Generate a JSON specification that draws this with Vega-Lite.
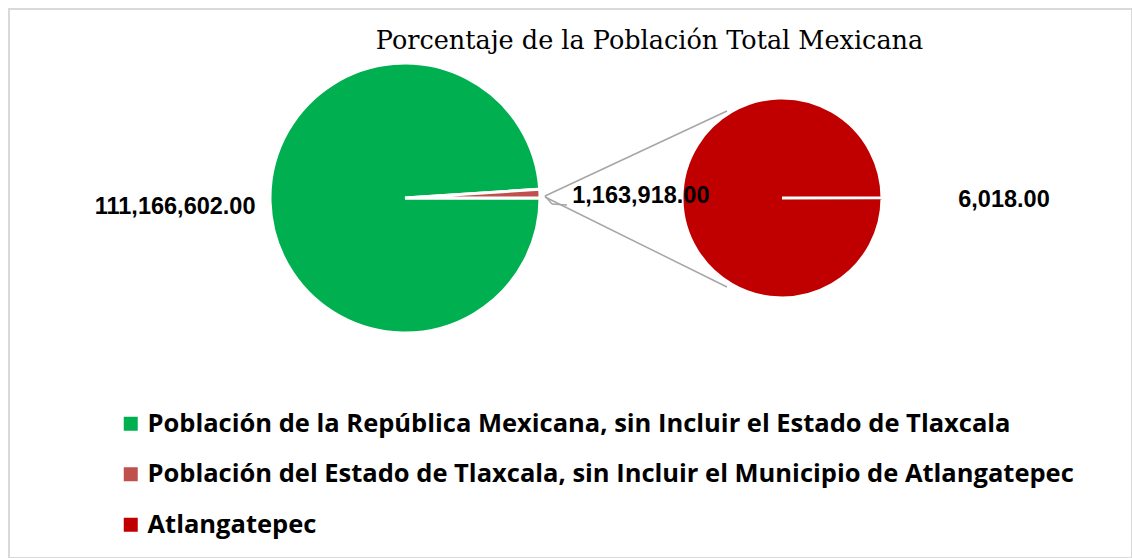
{
  "$schema": "https://vega.github.io/schema/vega-lite/v6.json",
  "autosize": "none",
  "width": 1123,
  "height": 549,
  "padding": {"left": 9, "top": 9, "right": 0, "bottom": 0},
  "background": "white",
  "title": {"text": "Porcentaje de la Población Total Mexicana", "font": "DejaVu Serif", "fontSize": 25.5, "fontWeight": "normal", "color": "#000000", "anchor": "middle", "dx": 79, "offset": -45},
  "config": {"view": {"stroke": "#D9D9D9", "strokeWidth": 2}, "scale": {"pointPadding": 0}},
  "datasets": {
    "principal": [
      {"grafico": "principal", "categoria": "Atlangatepec", "valor": 6018, "orden": 1},
      {"grafico": "principal", "categoria": "Población de la República Mexicana, sin Incluir el Estado de Tlaxcala", "valor": 111166602, "orden": 2},
      {"grafico": "principal", "categoria": "Población del Estado de Tlaxcala, sin Incluir el Municipio de Atlangatepec", "valor": 1163918, "orden": 3}
    ],
    "secundario": [
      {"grafico": "secundario", "categoria": "Atlangatepec", "valor": 6018}
    ]
  },
  "encoding": {
    "x": {"field": "grafico", "type": "nominal", "scale": {"type": "point", "domain": ["principal", "secundario"], "range": [396, 773], "padding": 0}, "axis": null},
    "y": {"datum": "centro", "type": "nominal", "scale": {"type": "point", "domain": ["centro"], "range": [0, 378], "padding": 0}, "axis": null}
  },
  "layer": [
    {
      "data": {"name": "principal"},
      "mark": {"type": "arc", "radius": 135, "stroke": "white", "strokeWidth": 3},
      "encoding": {
        "theta": {"field": "valor", "type": "quantitative", "stack": true, "scale": {"range": [1.5708, 7.85398]}},
        "order": {"field": "orden", "type": "quantitative"},
        "color": {
          "field": "categoria", "type": "nominal",
          "scale": {
            "domain": ["Población de la República Mexicana, sin Incluir el Estado de Tlaxcala", "Población del Estado de Tlaxcala, sin Incluir el Municipio de Atlangatepec", "Atlangatepec"],
            "range": ["#00B050", "#C0504D", "#C00000"]
          },
          "legend": {
            "orient": "none", "legendX": 109, "legendY": 402, "title": null, "direction": "vertical",
            "labelFont": "Open Sans", "labelFontSize": 25.5, "labelFontWeight": "bold", "labelColor": "#000000", "labelLimit": 1100,
            "symbolType": "square", "symbolSize": 196, "symbolStrokeWidth": 0, "rowPadding": 23.5, "labelOffset": 4, "padding": 0
          }
        }
      }
    },
    {
      "data": {"name": "secundario"},
      "mark": {"type": "arc", "radius": 100, "stroke": "white", "strokeWidth": 3},
      "encoding": {
        "theta": {"field": "valor", "type": "quantitative", "stack": true, "scale": {"range": [1.5708, 7.852]}},
        "color": {"field": "categoria", "type": "nominal"}
      }
    },
    {
      "data": {"values": [{}]},
      "mark": {"type": "rule", "color": "#A6A6A6", "strokeWidth": 1.5, "xOffset": 140, "x2Offset": -55, "yOffset": -2, "y2Offset": -87},
      "encoding": {
        "x": {"datum": "principal", "type": "nominal"},
        "x2": {"datum": "secundario"},
        "y": {"datum": "centro", "type": "nominal"},
        "y2": {"datum": "centro"}
      }
    },
    {
      "data": {"values": [{}]},
      "mark": {"type": "rule", "color": "#A6A6A6", "strokeWidth": 1.5, "xOffset": 140, "x2Offset": -55, "yOffset": -1, "y2Offset": 89},
      "encoding": {
        "x": {"datum": "principal", "type": "nominal"},
        "x2": {"datum": "secundario"},
        "y": {"datum": "centro", "type": "nominal"},
        "y2": {"datum": "centro"}
      }
    },
    {
      "data": {"values": [{}]},
      "mark": {"type": "rule", "color": "#A6A6A6", "strokeWidth": 1.5, "xOffset": 140, "x2Offset": 147, "yOffset": -2, "y2Offset": 6},
      "encoding": {
        "x": {"datum": "principal", "type": "nominal"},
        "x2": {"datum": "principal"},
        "y": {"datum": "centro", "type": "nominal"},
        "y2": {"datum": "centro"}
      }
    },
    {
      "data": {"values": [{}]},
      "mark": {"type": "rule", "color": "#A6A6A6", "strokeWidth": 1.5, "xOffset": 147, "x2Offset": 162, "yOffset": 6, "y2Offset": 7},
      "encoding": {
        "x": {"datum": "principal", "type": "nominal"},
        "x2": {"datum": "principal"},
        "y": {"datum": "centro", "type": "nominal"},
        "y2": {"datum": "centro"}
      }
    },
    {
      "data": {"name": "principal"},
      "mark": {"type": "text", "radius": 230, "dy": 1.5, "font": "Liberation Sans", "fontWeight": "bold", "fontSize": 23.5, "color": "#000000"},
      "encoding": {
        "theta": {"field": "valor", "type": "quantitative", "stack": true, "scale": {"range": [1.5708, 7.85398]}},
        "order": {"field": "orden", "type": "quantitative"},
        "text": {"condition": {"test": "datum.orden !== 2", "value": ""}, "field": "valor", "type": "quantitative", "format": ",.2f"}
      }
    },
    {
      "data": {"name": "principal"},
      "mark": {"type": "text", "radius": 236, "dy": 6, "font": "Liberation Sans", "fontWeight": "bold", "fontSize": 23.5, "color": "#000000"},
      "encoding": {
        "theta": {"field": "valor", "type": "quantitative", "stack": true, "scale": {"range": [1.5708, 7.85398]}},
        "order": {"field": "orden", "type": "quantitative"},
        "text": {"condition": {"test": "datum.orden !== 3", "value": ""}, "field": "valor", "type": "quantitative", "format": ",.2f"}
      }
    },
    {
      "data": {"name": "secundario"},
      "mark": {"type": "text", "dx": 222, "dy": 2, "font": "Liberation Sans", "fontWeight": "bold", "fontSize": 23.5, "color": "#000000"},
      "encoding": {
        "text": {"field": "valor", "type": "quantitative", "format": ",.2f"}
      }
    }
  ],
  "resolve": {"scale": {"theta": "independent"}}
}
